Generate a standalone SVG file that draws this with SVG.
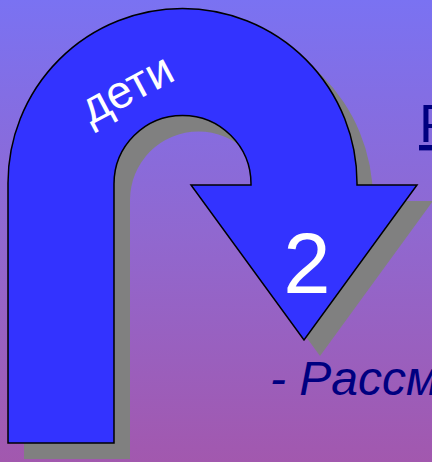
<svg xmlns="http://www.w3.org/2000/svg" width="432" height="462" viewBox="0 0 432 462">
<defs>
<linearGradient id="bg" x1="0" y1="0" x2="0" y2="1">
<stop offset="0" stop-color="#7A72F2"/>
<stop offset="0.5" stop-color="#9068D0"/>
<stop offset="1" stop-color="#A258AE"/>
</linearGradient>
<path id="uturn" d="M 8 443 L 8 183 A 174.5 174.5 0 0 1 357 183 L 357 185 L 417 185 L 304 340 L 191 185 L 251 185 L 251 184 A 68.5 68.5 0 0 0 114 184 L 114 443 Z"/>
</defs>
<style>
.shadow{fill:#808080;}
.arrow{fill:#3333FF;stroke:#000;stroke-width:1.5;stroke-linejoin:miter;}
.wt{fill:#fff;font-family:"Liberation Sans",Arial,sans-serif;}
.nv{fill:#000080;font-family:"Liberation Sans",Arial,sans-serif;}
</style>
<rect x="0" y="0" width="432" height="462" fill="url(#bg)"/>
<g id="uturn-arrow">
<use href="#uturn" class="shadow" transform="translate(16,16)"/>
<use href="#uturn" class="arrow"/>
<text class="wt" x="134" y="102" font-size="46" text-anchor="middle" transform="rotate(-28 134 102)">дети</text>
<text class="wt" x="307" y="293" font-size="85" text-anchor="middle">2</text>
</g>
<g id="text-right">
<text class="nv" x="419" y="142" font-size="54" text-decoration="underline">Р</text>
<text class="nv" x="270" y="395" font-size="48" font-style="italic">- Рассм</text>
</g>
<g id="connectors"/>
</svg>
